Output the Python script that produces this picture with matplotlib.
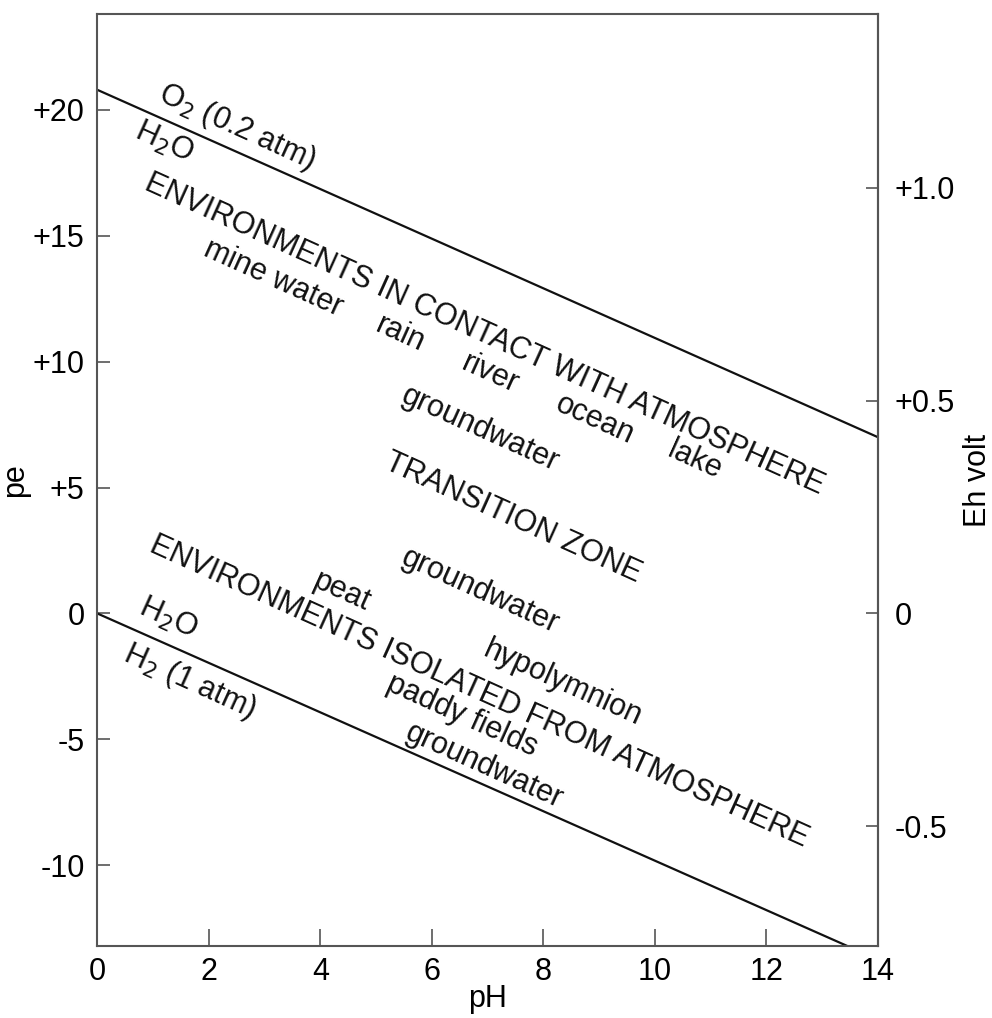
import numpy as np
import matplotlib
matplotlib.use("Agg")
import matplotlib.pyplot as plt
from matplotlib.ticker import FixedLocator, FixedFormatter

plt.rcParams['font.family'] = ['Liberation Sans', 'DejaVu Sans']

# water stability limits, pe as a function of pH
ph_line = [0, 14]
pe_upper = [20.8, 7.0]    # O2 (0.2 atm) / H2O
pe_lower = [0.0, -13.75]  # H2O / H2 (1 atm)

pe_ticks = [-10, -5, 0, 5, 10, 15, 20]
pe_labels = ['-10', '-5', '0', '+5', '+10', '+15', '+20']
eh_ticks = [-0.5, 0.0, 0.5, 1.0]
eh_labels = ['-0.5', '0', '+0.5', '+1.0']
ph_ticks = [0, 2, 4, 6, 8, 10, 12, 14]

# labels placed along the diagonal (text, pH, pe)
labels = [
    ('O$_2$ (0.2 atm)', 2.50, 19.3),
    ('H$_2$O', 1.20, 18.7),
    ('ENVIRONMENTS IN CONTACT WITH ATMOSPHERE', 6.95, 11.1),
    ('mine water', 3.15, 13.3),
    ('rain', 5.43, 11.1),
    ('river', 7.04, 9.5),
    ('ocean', 8.92, 7.7),
    ('lake', 10.72, 6.1),
    ('groundwater', 6.86, 7.3),
    ('TRANSITION ZONE', 7.46, 3.8),
    ('groundwater', 6.86, 0.9),
    ('peat', 4.38, 0.85),
    ('ENVIRONMENTS ISOLATED FROM ATMOSPHERE', 6.85, -3.1),
    ('hypolymnion', 8.35, -2.8),
    ('paddy fields', 6.54, -4.05),
    ('groundwater', 6.94, -6.05),
    ('H$_2$O', 1.27, -0.2),
    ('H$_2$ (1 atm)', 1.65, -2.7),
]

EH_PER_PE = 0.05916

fig = plt.figure(figsize=(9.92, 10.18), dpi=100)
ax = fig.add_axes([0.098, 0.071, 0.787, 0.915])

ax.plot(ph_line, pe_upper, color='#111111', lw=1.6)
ax.plot(ph_line, pe_lower, color='#111111', lw=1.6)

ax.set_xlim(0, 14)
ax.set_ylim(-13.2, 23.8)

ax.xaxis.set_major_locator(FixedLocator(ph_ticks))
ax.yaxis.set_major_locator(FixedLocator(pe_ticks))
ax.yaxis.set_major_formatter(FixedFormatter(pe_labels))
ax.tick_params(direction='in', length=9, width=1.2, color='#555555',
               labelsize=22, pad=9)
ax.tick_params(axis='x', length=12, pad=8)
for sp in ax.spines.values():
    sp.set_color('#555555')
    sp.set_linewidth(1.5)

ax.set_xlabel('pH', fontsize=22, labelpad=-2)
ax.set_ylabel('pe', fontsize=22, labelpad=2)

sec = ax.secondary_yaxis('right', functions=(lambda pe: pe * EH_PER_PE,
                                             lambda eh: eh / EH_PER_PE))
sec.yaxis.set_major_locator(FixedLocator(eh_ticks))
sec.yaxis.set_major_formatter(FixedFormatter(eh_labels))
sec.tick_params(direction='in', length=9, width=1.2, color='#555555',
                labelsize=22, pad=12)
sec.spines['right'].set_color('#555555')
sec.spines['right'].set_linewidth(1.5)
sec.set_ylabel('Eh volt', fontsize=22, labelpad=6)

# angle of a slope of -1 in screen space
angle = ax.transData.transform_angles(np.array([-45.0]),
                                      np.array([[7.0, 5.0]]))[0]

for txt, x, y in labels:
    ax.text(x, y, txt, rotation=angle, rotation_mode='anchor',
            ha='center', va='center', fontsize=22, color='#111111')

fig.savefig('out.png', dpi=100)
